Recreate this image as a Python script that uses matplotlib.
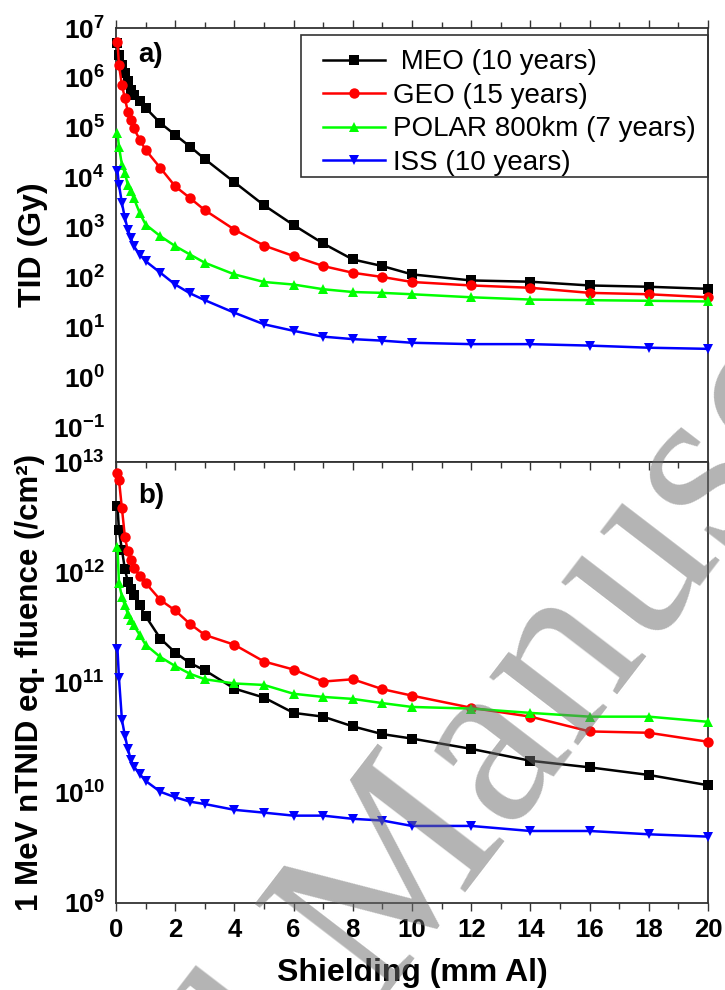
import numpy as np
import matplotlib
matplotlib.use('Agg')
import matplotlib.pyplot as plt
from matplotlib.patches import Rectangle
from matplotlib.ticker import FixedLocator, MultipleLocator, NullLocator

plt.rcParams['font.family'] = ['Liberation Sans', 'DejaVu Sans']
plt.rcParams['mathtext.fontset'] = 'custom'
plt.rcParams['mathtext.rm'] = 'Liberation Sans:bold'
plt.rcParams['mathtext.bf'] = 'Liberation Sans:bold'

# shielding depths (mm Al)
depth = [0.05, 0.1, 0.2, 0.3, 0.4, 0.5, 0.6, 0.8, 1.0, 1.5, 2.0, 2.5, 3.0,
         4.0, 5.0, 6.0, 7.0, 8.0, 9.0, 10.0, 12.0, 14.0, 16.0, 18.0, 20.0]

labels = [' MEO (10 years)', 'GEO (15 years)', 'POLAR 800km (7 years)', 'ISS (10 years)']

# a) TID (Gy)
tid_meo = [5.0e6, 2.9e6, 1.8e6, 1.24e6, 8.5e5, 5.8e5, 4.6e5, 3.4e5, 2.5e5, 1.24e5, 7.2e4,
           4.2e4, 2.36e4, 8.1e3, 2.8e3, 1.12e3, 479, 229, 169, 115, 87, 82, 69, 65, 59]
tid_geo = [5.3e6, 1.8e6, 7.2e5, 3.9e5, 2.1e5, 1.45e5, 9.8e4, 5.8e4, 3.6e4, 1.56e4, 6.7e3,
           3.9e3, 2.23e3, 910, 436, 268, 169, 124, 102, 81, 69, 62, 49, 46, 40]
tid_polar = [7.8e4, 4.2e4, 1.8e4, 1.24e4, 7.2e3, 5.3e3, 3.9e3, 1.96e3, 1.15e3, 670, 425,
             288, 197, 115, 81, 72, 58, 51, 49, 46, 40, 36, 35, 34, 33]
tid_iss = [1.35e4, 7.2e3, 3.1e3, 1.56e3, 910, 620, 425, 288, 212, 124, 72, 48, 35, 19.6,
           11.5, 8.5, 6.5, 5.8, 5.4, 4.9, 4.6, 4.6, 4.3, 3.9, 3.7]

# b) 1 MeV neutron equivalent fluence (/cm2)
flu_meo = [4.0e12, 2.4e12, 1.6e12, 1.07e12, 8.2e11, 7.0e11, 6.2e11, 5.0e11, 4.0e11, 2.5e11,
           1.87e11, 1.5e11, 1.29e11, 8.8e10, 7.3e10, 5.3e10, 4.9e10, 4.0e10, 3.4e10, 3.1e10,
           2.5e10, 1.95e10, 1.7e10, 1.45e10, 1.17e10]
flu_geo = [8.0e12, 6.9e12, 3.8e12, 2.1e12, 1.55e12, 1.3e12, 1.1e12, 9.3e11, 8.0e11, 5.6e11,
           4.5e11, 3.4e11, 2.7e11, 2.2e11, 1.55e11, 1.31e11, 1.02e11, 1.07e11, 8.7e10, 7.6e10,
           5.9e10, 4.9e10, 3.6e10, 3.5e10, 2.9e10]
flu_polar = [1.7e12, 8.0e11, 6.0e11, 5.0e11, 4.2e11, 3.7e11, 3.3e11, 2.7e11, 2.2e11, 1.7e11,
             1.41e11, 1.2e11, 1.07e11, 9.8e10, 9.5e10, 7.9e10, 7.4e10, 7.1e10, 6.5e10, 6.0e10,
             5.8e10, 5.3e10, 4.9e10, 4.9e10, 4.4e10]
flu_iss = [2.0e11, 1.1e11, 4.6e10, 3.3e10, 2.5e10, 2.0e10, 1.73e10, 1.48e10, 1.28e10, 1.02e10,
           9.1e9, 8.3e9, 7.9e9, 7.0e9, 6.6e9, 6.2e9, 6.2e9, 5.8e9, 5.6e9, 5.0e9, 5.0e9,
           4.5e9, 4.5e9, 4.2e9, 4.0e9]

colors = ['black', '#ff0000', '#00ff00', '#0000ff']
markers = ['s', 'o', '^', 'v']

W, H = 725, 990
fig = plt.figure(figsize=(W / 100, H / 100), dpi=100)

# axes placed in pixels
ax1 = fig.add_axes([116 / W, (H - 462) / H, 592 / W, 434 / H])
ax2 = fig.add_axes([116 / W, (H - 903) / H, 592 / W, 441 / H])

for ax, series in ((ax1, (tid_meo, tid_geo, tid_polar, tid_iss)),
                   (ax2, (flu_meo, flu_geo, flu_polar, flu_iss))):
    for vals, c, m, lab in zip(series, colors, markers, labels):
        ax.plot(depth, vals, '-', color=c, marker=m, markersize=7.5, lw=1.8,
                markeredgewidth=0, label=lab, clip_on=False, zorder=3)
    ax.set_yscale('log')
    ax.set_xlim(0, 20)
    for sp in ax.spines.values():
        sp.set_linewidth(1.3)
        sp.set_color('#333333')
    ax.xaxis.set_major_locator(MultipleLocator(2))
    ax.xaxis.set_minor_locator(MultipleLocator(1))
    ax.yaxis.set_minor_locator(NullLocator())
    ax.tick_params(axis='y', length=0, pad=8, labelsize=19)
    ax.tick_params(axis='x', which='both', width=1.0, color='#333333')

def log_fmt(v, pos):
    return r'$\mathbf{10^{%d}}$' % int(round(np.log10(v)))

# panel a
ax1.set_ylim(10 ** -1.7, 1e7)
ax1.yaxis.set_major_locator(FixedLocator([10.0 ** k for k in range(-1, 8)]))
ax1.yaxis.set_major_formatter(plt.FuncFormatter(log_fmt))
ax1.tick_params(axis='x', which='both', direction='out', top=True, bottom=False,
                labelbottom=False, labeltop=False)
ax1.tick_params(axis='x', which='major', length=6)
ax1.tick_params(axis='x', which='minor', length=4)
ax1.set_ylabel('TID (Gy)', fontsize=23, fontweight='bold')
ax1.yaxis.set_label_coords(-0.115, 0.5)
ax1.text(0.037, 0.938, 'a)', transform=ax1.transAxes, fontsize=20,
         fontweight='bold', va='center', ha='left')
ax1.legend(loc='upper left', bbox_to_anchor=(0.3497, 0.951), fontsize=20,
           frameon=False, borderaxespad=0, borderpad=0, handlelength=2.23,
           handletextpad=0.3, labelspacing=0.27)
# legend frame drawn in pixels
fig.add_artist(Rectangle((301 / W, (H - 177) / H), 407 / W, 142 / H,
                         transform=fig.transFigure, fill=False,
                         edgecolor='#333333', linewidth=1.2, zorder=5))

# panel b
ax2.set_ylim(1e9, 1e13)
ax2.yaxis.set_major_locator(FixedLocator([10.0 ** k for k in range(9, 14)]))
ax2.yaxis.set_major_formatter(plt.FuncFormatter(log_fmt))
ax2.tick_params(axis='x', which='both', direction='out', bottom=True, top=False,
                labelsize=18.5, pad=5)
ax2.tick_params(axis='x', which='major', length=6)
ax2.tick_params(axis='x', which='minor', length=4)
ax2.set_xticks(np.arange(0, 21, 2))
ax2.set_xticklabels([str(v) for v in range(0, 21, 2)], fontweight='bold')
# inward ticks along the shared border
sec = ax2.secondary_xaxis('top')
sec.xaxis.set_major_locator(MultipleLocator(2))
sec.xaxis.set_minor_locator(MultipleLocator(1))
sec.tick_params(axis='x', which='both', direction='in', labeltop=False, width=1.0,
                color='#333333')
sec.tick_params(axis='x', which='major', length=6)
sec.tick_params(axis='x', which='minor', length=4)
sec.spines['top'].set_visible(False)
ax2.set_ylabel('1 MeV nTNID eq. fluence (/cm²)', fontsize=22.5, fontweight='bold')
ax2.yaxis.set_label_coords(-0.12, 0.5)
ax2.set_xlabel('Shielding (mm Al)', fontsize=23, fontweight='bold', labelpad=11)
ax2.text(0.037, 0.923, 'b)', transform=ax2.transAxes, fontsize=20,
         fontweight='bold', va='center', ha='left')

# "Accepted Manuscript" stamp
ang = 52.5
ux, uy = np.cos(np.radians(ang)), np.sin(np.radians(ang))
m_x, m_y = 378.0, H - 1006.0
em = 243.0
pre = 4.026 * em
fig.text((m_x - pre * ux) / W, (m_y - pre * uy) / H, 'Accepted Manuscript',
         rotation=ang, rotation_mode='anchor', ha='left', va='baseline',
         fontsize=em * 0.72, family='Liberation Serif', color='#6e6e6e', alpha=0.52,
         zorder=20)

fig.savefig('out.png', dpi=100)
